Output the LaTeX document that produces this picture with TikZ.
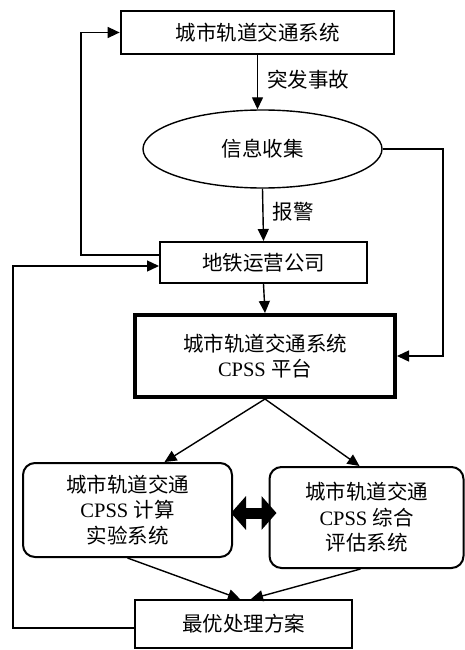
\documentclass[tikz,border=0pt]{standalone}
\usepackage{fontspec}
\setmainfont{Liberation Serif}
\newfontfamily\cjk{Noto Sans CJK SC}
\usetikzlibrary{arrows.meta,shapes.geometric,calc}

\tikzset{
  box/.style={draw, rectangle, inner sep=0pt, align=center,
    font=\fontsize{20.5}{25.5}\selectfont},
  rbox/.style={box, rounded corners=12pt, line width=2pt},
  arr/.style={line width=1.4pt, -{Triangle[length=12pt,width=11pt]}},
  lbl/.style={font=\fontsize{20.5}{25.5}\selectfont\cjk, inner sep=0pt},
  dbl/.style={line width=11pt, {Triangle[length=15pt,width=33pt]}-{Triangle[length=15pt,width=33pt]}}
}

\begin{document}
\begin{tikzpicture}[x=1pt, y=-1pt]
  \useasboundingbox (0,0) rectangle (465,650);

  % main chain
  \node[box, line width=2.7pt, minimum width=273pt, minimum height=43pt]
    (top) at (257.5,32.5) {\cjk 城市轨道交通系统};
  \node[draw, ellipse, line width=1.4pt, minimum width=239pt, minimum height=78pt,
    inner sep=0pt, font=\fontsize{20.5}{25.5}\selectfont\cjk]
    (info) at (262.5,149) {信息收集};
  \node[box, line width=2pt, minimum width=207pt, minimum height=41pt]
    (metro) at (263.5,262.5) {\cjk 地铁运营公司};
  \node[box, line width=4pt, minimum width=260pt, minimum height=82pt]
    (cpss) at (265,356) {{\cjk 城市轨道交通系统}\\CPSS {\cjk 平台}};
  \node[rbox, minimum width=209pt, minimum height=94pt]
    (sim) at (127.5,510) {{\cjk 城市轨道交通}\\CPSS {\cjk 计算}\\{\cjk 实验系统}};
  \node[rbox, minimum width=194pt, minimum height=101pt]
    (eval) at (366.5,517.5) {{\cjk 城市轨道交通}\\CPSS {\cjk 综合}\\{\cjk 评估系统}};
  \node[box, line width=2pt, minimum width=217pt, minimum height=48pt]
    (best) at (243.5,624) {\cjk 最优处理方案};

  % edge labels
  \node[lbl] (lab1) at (308,80) {突发事故};
  \node[lbl] (lab2) at (293,212) {报警};

  % routing coordinates
  \coordinate (l1) at (81,0);
  \coordinate (l2) at (13,0);
  \coordinate (r1) at (443,0);
  \coordinate (mtop) at ([yshift=7.5pt]metro.west);
  \coordinate (mbot) at ([yshift=-3.5pt]metro.west);
  \coordinate (bw) at ([yshift=-4pt]best.west);

  % connectors
  \draw[arr] (top.south) -- (top.south |- info.north);
  \draw[arr] (info.south) -- (metro.north);
  \draw[arr] (metro.south) -- (cpss.north);
  \draw[arr] (info.east) -| (r1 |- cpss.east) -- (cpss.east);
  \draw[arr] (mtop) -| (l1 |- top.west) -- (top.west);
  \draw[arr] (bw) -| (l2 |- mbot) -- (mbot);
  \draw[arr] (cpss.south) -- ([xshift=37pt]sim.north);
  \draw[arr] (cpss.south) -- ([xshift=-7pt]eval.north);
  \draw[arr] (sim.south) -- ([xshift=-3.5pt]best.north);
  \draw[arr] ([xshift=-6pt]eval.south) -- ([xshift=7.5pt]best.north);

  % two-way exchange between the simulation and evaluation systems
  \draw[dbl] ([xshift=-2pt,yshift=-3pt]sim.east) -- ([xshift=8pt,yshift=4.5pt]eval.west);
\end{tikzpicture}
\end{document}
